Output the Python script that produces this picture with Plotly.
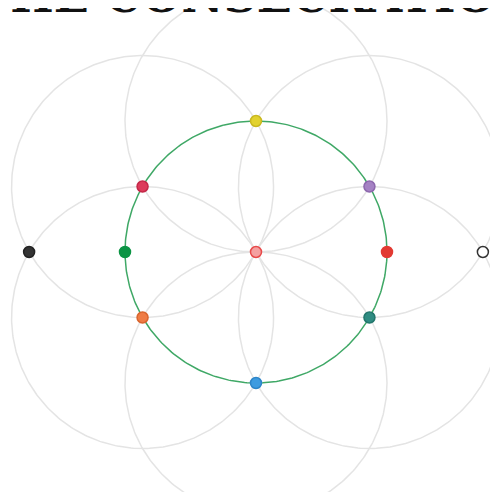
import numpy as np
import plotly.graph_objects as go

# Seed-of-life geometry (unit radius)
circle_cx = [0.0, 0.8660, 0.8660, 0.0, -0.8660, -0.8660]
circle_cy = [1.0, 0.5, -0.5, -1.0, -0.5, 0.5]
radius = 1.0

point_names = ["Top", "Upper right", "Right", "Lower right", "Bottom", "Lower left",
               "Left", "Upper left", "Center", "Outer left", "Outer right"]
point_x = [0.0, 0.8660, 1.0, 0.8660, 0.0, -0.8660, -1.0, -0.8660, 0.0, -1.732, 1.732]
point_y = [1.0, 0.5, 0.0, -0.5, -1.0, -0.5, 0.0, 0.5, 0.0, 0.0, 0.0]
point_colors = ["#e2d22e", "#a582c4", "#e23a32", "#2f8c82", "#3d9be0", "#ef7c45",
                "#0b9444", "#dd3b5b", "#f4a0a0", "#333333", "#ffffff"]
point_lines = ["#c9b820", "#8d68ad", "#e23a32", "#22766c", "#2d85c8", "#d9652e",
               "#0b9444", "#c42848", "#e84a4a", "#222222", "#333333"]

title_text = "<b>THE CONSECRATION</b>"

t = np.linspace(0, 2 * np.pi, 361)
fig = go.Figure()
for cx, cy in zip(circle_cx, circle_cy):
    fig.add_trace(go.Scatter(x=cx + radius * np.cos(t), y=cy + radius * np.sin(t),
                             mode="lines", line=dict(color="#e4e4e4", width=1.5),
                             hoverinfo="skip", showlegend=False))
fig.add_trace(go.Scatter(x=radius * np.cos(t), y=radius * np.sin(t), mode="lines",
                         line=dict(color="#3fa866", width=1.5), hoverinfo="skip",
                         showlegend=False))
fig.add_trace(go.Scatter(x=point_x, y=point_y, mode="markers", text=point_names,
                         marker=dict(size=11, color=point_colors,
                                     line=dict(color=point_lines, width=1.5)),
                         showlegend=False))

fig.add_annotation(text=title_text, xref="paper", yref="paper", x=0.5, y=1 - 17 / 492,
                   xanchor="center", yanchor="bottom", showarrow=False,
                   font=dict(family="DejaVu Serif", size=46, color="#111111"))

fig.update_xaxes(range=[-248 / 131, 250 / 131], visible=False)
fig.update_yaxes(range=[-248 / 131, 244 / 131], visible=False)
fig.update_layout(width=498, height=492, margin=dict(l=0, r=0, t=0, b=0),
                  paper_bgcolor="white", plot_bgcolor="white")
fig.write_html("out.html")
